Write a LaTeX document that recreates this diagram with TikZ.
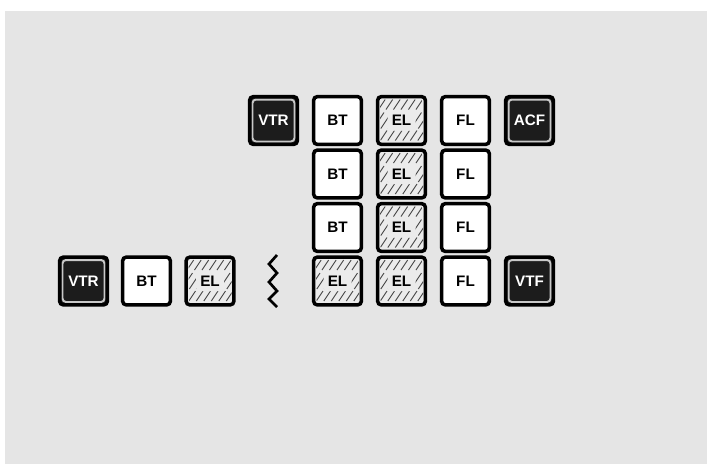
\documentclass[tikz,border=0pt]{standalone}
\usepackage{fontspec}
\setsansfont{Liberation Sans}
\usetikzlibrary{calc}
\definecolor{panel}{HTML}{E5E5E5}
\definecolor{elfill}{HTML}{EBEBEB}
\definecolor{darkfill}{HTML}{1C1C1C}
\definecolor{rimgray}{HTML}{C8C8C8}
\definecolor{hatchgray}{HTML}{444444}
\tikzset{
%Define base box
box/.style={draw=black, line width=3pt, rounded corners=3pt, minimum size=1.43cm, inner sep=0pt, fill=white, font=\sffamily\bfseries\fontsize{13}{15}\selectfont},
%Define style for the different boxes
plain/.style={box},
hatchline/.style={hatchgray, line width=0.8pt, dash pattern=on 0.36cm off 0.072cm on 0.577cm off 0.108cm on 0.36cm off 1cm},
hatched/.style={box, fill=elfill, path picture={
  \begin{scope}
    \clip ($(path picture bounding box.south west)+(0.07cm,0.07cm)$) rectangle ($(path picture bounding box.north east)-(0.07cm,0.07cm)$);
    \foreach \k in {-7,...,7}
      \draw[hatchline] ($(path picture bounding box.center)+(\k*0.225cm-0.41cm,-0.6cm)$) -- ++(0.82cm,1.23cm);
  \end{scope}
  \fill[elfill] ($(path picture bounding box.center)+(-0.42cm,-0.3cm)$) rectangle ($(path picture bounding box.center)+(0.42cm,0.3cm)$);
}},
darkbox/.style={box, fill=darkfill, text=white, path picture={
  \draw[rimgray, line width=1.7pt] ($(path picture bounding box.south west)+(0.085cm,0.085cm)$) rectangle ($(path picture bounding box.north east)-(0.085cm,0.085cm)$);
}},
break line/.style={line width=2.3pt, line join=miter},
}

\begin{document}
\begin{tikzpicture}[x=0.03cm, y=-0.03cm]

    % frame
    \useasboundingbox (0,0) rectangle (707,465);
    \fill[panel] (5,11) rectangle (707,464);

    % top row ends
    \node[darkbox] (vtrtop) at (273.5,120.5) {VTR};
    \node[darkbox] (acf) at (529.5,120.5) {ACF};

    % stacked columns
    \foreach \r/\y in {1/120.5,2/174,3/227.5} {
      \node[plain] (bt\r) at (337.5,\y) {BT};
      \node[hatched] (el\r) at (401.5,\y) {EL};
      \node[plain] (fl\r) at (465.5,\y) {FL};
    }

    % bottom row, left part
    \node[darkbox] (vtrlow) at (83.5,281) {VTR};
    \node[plain] (btlow) at (146.5,281) {BT};
    \node[hatched] (ellow) at (210,281) {EL};

    % break mark
    \draw[break line] (277,255) -- (269,264) -- (277,273) -- (269,282) -- (277,291) -- (269,299) -- (277,307);

    % bottom row, right part
    \node[hatched] (el4a) at (337.5,281) {EL};
    \node[hatched] (el4b) at (401.5,281) {EL};
    \node[plain] (fl4) at (465.5,281) {FL};
    \node[darkbox] (vtf) at (529.5,281) {VTF};

\end{tikzpicture}
\end{document}
